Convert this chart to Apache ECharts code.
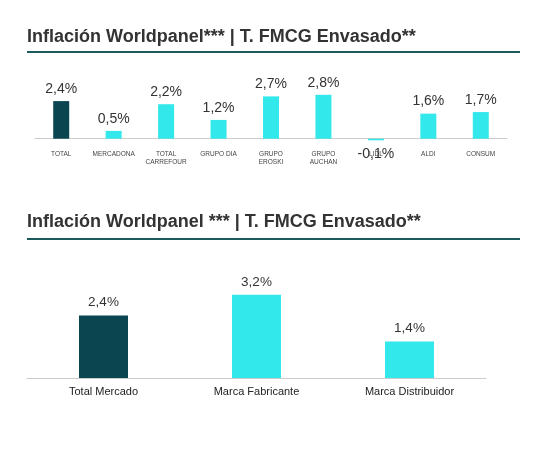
<!DOCTYPE html><html><head><meta charset="utf-8"><script src="https://cdn.jsdelivr.net/npm/echarts@6/dist/echarts.min.js"></script></head><body style="margin:0;background:#fff"><div id="c" style="width:551px;height:450px"></div><script>
const cats1=['TOTAL','MERCADONA','TOTAL\nCARREFOUR','GRUPO DIA','GRUPO\nEROSKI','GRUPO\nAUCHAN','LIDL','ALDI','CONSUM'];
const vals1=[2.4,0.5,2.2,1.2,2.7,2.8,-0.1,1.6,1.7];
const cats2=['Total Mercado','Marca Fabricante','Marca Distribuidor'];
const vals2=[2.4,3.2,1.4];
const title1='Inflación Worldpanel*** | T. FMCG Envasado**';
const title2='Inflación Worldpanel *** | T. FMCG Envasado**';
const dark='#0b4650',cyan='#33e8ea';
const fmt=p=>String(p.value).replace('.',',')+'%';
const ch=echarts.init(document.getElementById('c'));
ch.setOption({animation:false,
graphic:[
{type:'text',left:27,top:28,style:{text:title1,font:'bold 18px Arial, Liberation Sans',fill:'#333'}},
{type:'rect',shape:{x:27,y:51,width:493,height:2},style:{fill:'#1d5a5e'}},
{type:'text',left:27,top:213,style:{text:title2,font:'bold 18px Arial, Liberation Sans',fill:'#333'}},
{type:'rect',shape:{x:27,y:238,width:493,height:2},style:{fill:'#1d5a5e'}}],
grid:[{left:35,right:44,top:76,bottom:305},{left:27,right:65,top:274,bottom:72}],
xAxis:[{gridIndex:0,type:'category',data:cats1,axisTick:{show:false},axisLine:{onZero:true,lineStyle:{color:'#ccc'}},axisLabel:{fontSize:6.5,color:'#444',interval:0,lineHeight:8,margin:5}},
{gridIndex:1,type:'category',data:cats2,axisTick:{show:false},axisLine:{lineStyle:{color:'#ccc'}},axisLabel:{fontSize:11,color:'#222',margin:8}}],
yAxis:[{gridIndex:0,min:-0.4,max:4,show:false},{gridIndex:1,min:0,max:4,show:false}],
series:[{type:'bar',xAxisIndex:0,yAxisIndex:0,barWidth:16,data:vals1.map((v,i)=>({value:v,itemStyle:{color:i==0?dark:cyan},label:v<0?{position:'bottom',distance:7}:undefined})),label:{show:true,position:'top',formatter:fmt,fontSize:14,color:'#333',distance:5}},
{type:'bar',xAxisIndex:1,yAxisIndex:1,barWidth:49,data:vals2.map((v,i)=>({value:v,itemStyle:{color:i==0?dark:cyan}})),label:{show:true,position:'top',formatter:fmt,fontSize:13.5,color:'#333',distance:6}}]});
</script></body></html>
